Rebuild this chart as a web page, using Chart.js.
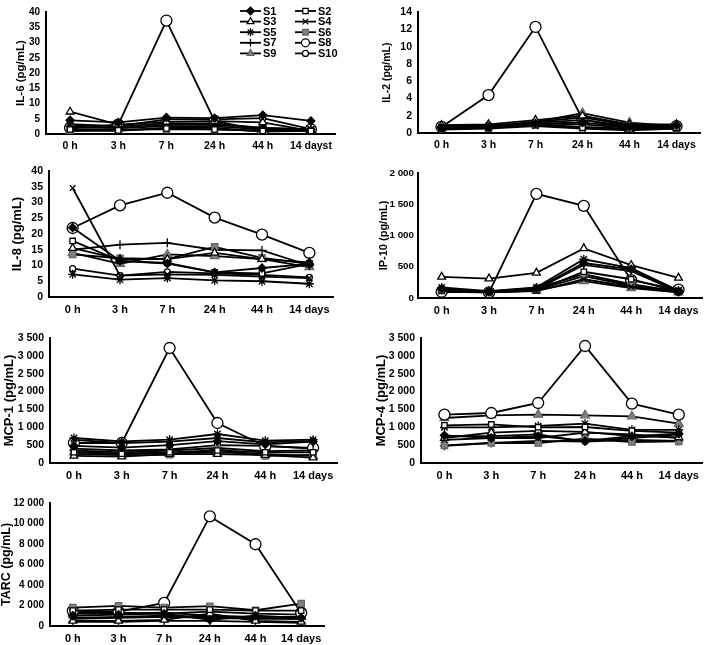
<!DOCTYPE html>
<html>
<head>
<meta charset="utf-8">
<script src="https://cdn.jsdelivr.net/npm/chart.js@4.4.1/dist/chart.umd.min.js"></script>
<style>
  html, body { margin: 0; padding: 0; background: #fff; }
  #wrap { position: relative; width: 709px; height: 645px; overflow: hidden; }
  #wrap canvas { position: absolute; }
</style>
</head>
<body>
<div id="wrap"></div>
<script>
// ---------------- Data -----------------------
const times = ["0 h", "3 h", "7 h", "24 h", "44 h", "14 days"];
const timesIL6 = ["0 h", "3 h", "7 h", "24 h", "44 h", "14 dayst"];
const subjects = ["S1", "S2", "S3", "S4", "S5", "S6", "S7", "S8", "S9", "S10"];

// one row per subject (S1..S10), one column per time point
const il6 = [
  [4.5, 3.8, 5.4, 5.2, 6.2, 4.3],
  [1.5, 1.2, 1.8, 1.5, 1.0, 1.0],
  [7.3, 3.1, 4.0, 4.2, 3.8, 1.0],
  [2.0, 2.0, 2.5, 2.5, 1.5, 1.5],
  [2.5, 2.0, 3.0, 3.0, 2.0, 1.5],
  [1.0, 1.5, 1.5, 1.5, 1.0, 1.2],
  [1.0, 1.0, 2.0, 2.0, 0.8, 1.0],
  [2.0, 3.1, 37.2, 4.3, 1.0, 1.5],
  [3.0, 2.5, 3.5, 3.5, 2.0, 1.5],
  [3.2, 2.6, 4.8, 4.8, 5.2, 1.6]
];
const il2 = [
  [0.6, 0.7, 1.1, 1.2, 0.7, 0.9],
  [0.5, 0.6, 0.9, 0.6, 0.4, 0.6],
  [0.9, 1.0, 1.5, 2.0, 1.0, 1.0],
  [0.4, 0.5, 0.8, 0.5, 0.3, 0.5],
  [0.7, 0.8, 1.2, 1.5, 0.8, 0.8],
  [0.5, 0.6, 1.0, 0.7, 0.5, 0.5],
  [0.6, 0.7, 1.3, 1.8, 0.9, 0.9],
  [0.7, 4.4, 12.3, 1.6, 0.5, 0.8],
  [0.8, 0.8, 1.3, 2.3, 1.2, 0.8],
  [0.7, 0.9, 1.1, 1.0, 0.6, 0.7]
];
const il8 = [
  [22.0, 11.5, 10.6, 7.8, 9.2, 10.5],
  [17.8, 11.5, 10.8, 7.8, 7.5, 10.5],
  [15.5, 12.0, 12.0, 14.0, 12.0, 11.0],
  [34.6, 6.8, 7.2, 7.0, 6.5, 6.0],
  [7.2, 5.5, 6.0, 5.3, 5.0, 4.2],
  [13.5, 12.3, 12.0, 15.9, 12.4, 10.5],
  [15.0, 16.6, 17.2, 15.0, 14.8, 10.0],
  [21.9, 29.1, 33.1, 25.2, 19.8, 14.0],
  [14.0, 10.5, 13.5, 13.0, 12.0, 9.5],
  [9.0, 6.8, 8.0, 7.5, 7.0, 6.2]
];
const ip10 = [
  [150, 100, 150, 560, 460, 100],
  [120, 95, 120, 420, 300, 100],
  [338, 311, 402, 794, 525, 322],
  [110, 90, 110, 300, 180, 90],
  [170, 110, 170, 620, 480, 120],
  [120, 100, 130, 350, 200, 110],
  [130, 100, 140, 530, 430, 100],
  [100, 90, 1667, 1475, 285, 134],
  [100, 90, 120, 270, 160, 90],
  [140, 105, 160, 380, 220, 100]
];
const mcp1 = [
  [480, 430, 500, 610, 520, 600],
  [300, 260, 300, 350, 300, 300],
  [200, 180, 250, 250, 220, 150],
  [650, 560, 600, 700, 580, 620],
  [700, 607, 653, 812, 625, 653],
  [250, 220, 230, 380, 200, 230],
  [350, 300, 350, 420, 330, 350],
  [560, 560, 3220, 1120, 470, 420],
  [300, 250, 280, 300, 250, 200],
  [400, 350, 380, 500, 480, 400]
];
const mcp4 = [
  [775, 700, 750, 620, 750, 820],
  [1055, 1080, 1000, 1008, 900, 850],
  [700, 850, 900, 870, 750, 720],
  [650, 700, 700, 850, 800, 700],
  [1000, 1000, 1036, 1100, 930, 930],
  [495, 560, 560, 680, 588, 607],
  [480, 560, 620, 600, 650, 620],
  [1353, 1400, 1680, 3276, 1661, 1353],
  [1260, 1335, 1353, 1335, 1307, 1101],
  [750, 750, 800, 600, 700, 800]
];
const tarc = [
  [1000, 1100, 1200, 600, 1000, 800],
  [1500, 1600, 1600, 1600, 1500, 1500],
  [500, 500, 600, 1200, 500, 400],
  [700, 800, 900, 800, 700, 700],
  [800, 900, 1000, 900, 800, 700],
  [1798, 1962, 1800, 1930, 1537, 2190],
  [400, 400, 500, 500, 400, 300],
  [1472, 1400, 2256, 10692, 7978, 1275],
  [1200, 1200, 1300, 1000, 900, 900],
  [1300, 1300, 1200, 1400, 1200, 1100]
];

// ---------------- Marker styles -----------------------
const GREY = "#808080";
const markers = [
  { pointStyle: "rectRot", radius: 4, fill: "#000", stroke: "#000" },
  { pointStyle: "rect", radius: 3.8, fill: "#fff", stroke: "#000" },
  { pointStyle: "triangle", radius: 4.5, fill: "#fff", stroke: "#000" },
  { pointStyle: "crossRot", radius: 4, fill: "#000", stroke: "#000" },
  { pointStyle: "star", radius: 4.5, fill: "#000", stroke: "#000" },
  { pointStyle: "rect", radius: 4.5, fill: GREY, stroke: "#666" },
  { pointStyle: "cross", radius: 4.5, fill: "#000", stroke: "#000" },
  { pointStyle: "circle", radius: 5.5, fill: "#fff", stroke: "#000" },
  { pointStyle: "triangle", radius: 5, fill: GREY, stroke: "#666" },
  { pointStyle: "circle", radius: 3, fill: "#fff", stroke: "#000" }
];

function fmt(v) {
  return String(v).replace(/\B(?=(\d{3})+(?!\d))/g, " ");
}

// legend drawn in two columns inside the first panel
const legendPlugin = {
  id: "twoColLegend",
  afterDraw(chart) {
    if (!chart.options.showLegend) return;
    const ctx = chart.ctx;
    ctx.save();
    chart.data.datasets.forEach((ds, i) => {
      const col = i % 2, row = Math.floor(i / 2);
      const x0 = col === 0 ? 240 : 295;
      const y = 11 + row * 10.6;
      ctx.strokeStyle = "#000";
      ctx.lineWidth = 1.8;
      ctx.beginPath();
      ctx.moveTo(x0, y);
      ctx.lineTo(x0 + 21, y);
      ctx.stroke();
      const m = markers[i];
      ctx.fillStyle = m.fill;
      ctx.strokeStyle = m.stroke;
      ctx.lineWidth = 1.2;
      Chart.helpers.drawPoint(ctx, {
        pointStyle: m.pointStyle,
        radius: Math.min(m.radius, 4),
        rotation: 0,
        borderWidth: 1.2
      }, x0 + 10.5, y);
      ctx.fillStyle = "#000";
      ctx.font = "bold 11px 'Liberation Sans', Arial, sans-serif";
      ctx.textBaseline = "middle";
      ctx.textAlign = "left";
      ctx.fillText(ds.label, x0 + 23, y + 0.5);
    });
    ctx.restore();
  }
};

// ---------------- Panel builder -----------------------
function buildPanel(p) {
  const canvas = document.createElement("canvas");
  canvas.width = p.box[2] - p.box[0];
  canvas.height = p.box[3] - p.box[1];
  canvas.style.left = p.box[0] + "px";
  canvas.style.top = p.box[1] + "px";
  document.getElementById("wrap").appendChild(canvas);

  const datasets = p.values.map((row, i) => ({
    label: subjects[i],
    data: row,
    borderColor: "#000",
    borderWidth: 1.8,
    pointStyle: markers[i].pointStyle,
    pointRadius: markers[i].radius,
    pointBackgroundColor: markers[i].fill,
    pointBorderColor: markers[i].stroke,
    pointBorderWidth: 1.3,
    tension: 0
  }));

  const font = "'Liberation Sans', Arial, sans-serif";

  new Chart(canvas, {
    type: "line",
    data: { labels: p.labels || times, datasets },
    options: {
      responsive: false,
      animation: false,
      showLegend: !!p.legend,
      layout: {
        padding: {
          left: 0,
          top: p.plot[1] - p.box[1],
          right: p.box[2] - p.plot[2],
          bottom: 0
        }
      },
      plugins: { legend: { display: false }, tooltip: { enabled: false } },
      scales: {
        x: {
          offset: true,
          grid: { display: false, drawTicks: false },
          border: { display: true, color: "#000", width: 2 },
          ticks: {
            color: "#000",
            padding: 6,
            maxRotation: 0,
            autoSkip: false,
            font: { family: font, weight: "bold", size: p.xSize }
          },
          afterFit: (s) => { s.height = p.box[3] - p.plot[3]; }
        },
        y: {
          min: 0,
          max: p.max,
          grid: { display: false, drawTicks: false },
          border: { display: true, color: "#000", width: 2 },
          ticks: {
            color: "#000",
            padding: p.tickPad || 6,
            stepSize: p.step,
            autoSkip: false,
            font: { family: font, weight: "bold", size: p.tickSize },
            callback: (v) => fmt(v)
          },
          title: {
            display: true,
            text: p.title,
            color: "#000",
            font: { family: font, weight: "bold", size: p.titleSize },
            padding: { top: p.titleX - p.box[0] - p.titleSize * 0.6, bottom: 0 }
          },
          afterFit: (s) => { s.width = p.plot[0] - p.box[0]; }
        }
      }
    },
    plugins: [legendPlugin]
  });
}

const panels = [
  { title: "IL-6 (pg/mL)", values: il6, labels: timesIL6, max: 40, step: 5, legend: true,
    box: [0, 0, 345, 152], plot: [46, 7, 335, 134], titleX: 21, titleSize: 11.5, tickSize: 10, xSize: 10.5 },
  { title: "IL-2 (pg/mL)", values: il2, max: 14, step: 2,
    box: [360, 0, 709, 151], plot: [418, 7, 700, 133], titleX: 387, titleSize: 10.5, tickSize: 10.5, xSize: 10.5 },
  { title: "IL-8 (pg/mL)", values: il8, max: 40, step: 5,
    box: [0, 155, 345, 315], plot: [49, 171, 333, 297], titleX: 17, titleSize: 13, tickSize: 10.5, xSize: 11 },
  { title: "IP-10 (pg/mL)", values: ip10, max: 2000, step: 500, tickPad: 4,
    box: [360, 155, 709, 316], plot: [418, 173, 707, 298], titleX: 384, titleSize: 11, tickSize: 9.8, xSize: 11 },
  { title: "MCP-1 (pg/mL)", values: mcp1, max: 3500, step: 500,
    box: [0, 320, 345, 481], plot: [50, 338, 337, 463], titleX: 9, titleSize: 13, tickSize: 10.5, xSize: 11 },
  { title: "MCP-4 (pg/mL)", values: mcp4, max: 3500, step: 500,
    box: [360, 320, 709, 481], plot: [421, 338, 709, 463], titleX: 381, titleSize: 13, tickSize: 10.5, xSize: 11 },
  { title: "TARC (pg/mL)", values: tarc, max: 12000, step: 2000,
    box: [0, 485, 340, 645], plot: [50, 503, 324, 626], titleX: 7, titleSize: 12.5, tickSize: 10, xSize: 11 }
];

panels.forEach(buildPanel);
</script>
</body>
</html>
